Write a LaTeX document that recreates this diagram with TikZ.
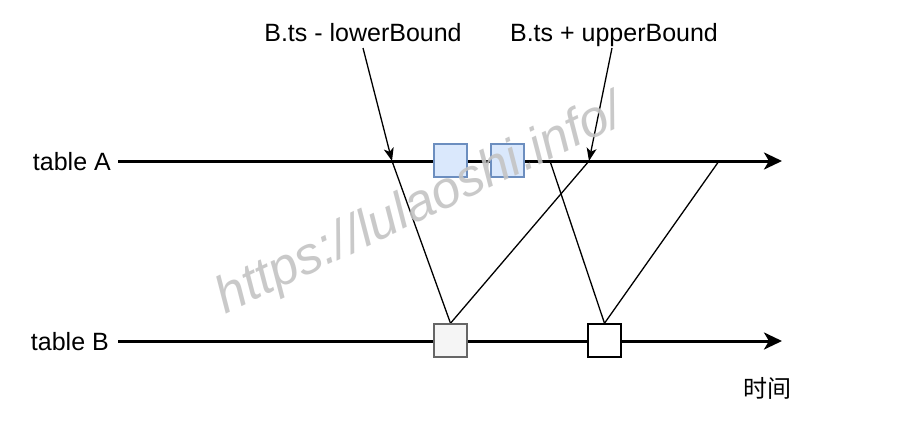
\documentclass[tikz,border=0pt]{standalone}
\usepackage{fontspec}
\setmainfont{Liberation Sans}
\newfontfamily\cjk{Noto Sans CJK SC}
\usetikzlibrary{arrows.meta}
\definecolor{blueFill}{HTML}{DAE8FC}
\definecolor{blueLine}{HTML}{6C8EBF}
\definecolor{grayFill}{HTML}{F5F5F5}
\definecolor{grayLine}{HTML}{666666}
\definecolor{wmark}{HTML}{C4C4C4}
\begin{document}
\begin{tikzpicture}[x=1pt,y=-1pt,
  lbl/.style={font=\fontsize{25}{30}\selectfont, inner sep=0pt},
  timeline/.style={line width=3pt, -{Stealth[length=18pt,width=17pt,inset=5pt]}},
  pointer/.style={line width=1.3pt, -{Stealth[length=13pt,width=10pt,inset=3.5pt]}},
  msg/.style={line width=1.3pt},
  evt/.style={draw, minimum width=33pt, minimum height=33pt, inner sep=0pt, line width=1.5pt},
  bluebox/.style={evt, fill=blueFill, draw=blueLine},
  graybox/.style={evt, fill=grayFill, draw=grayLine},
  whitebox/.style={evt, fill=white, draw=black}
]
\useasboundingbox (0,0) rectangle (900,439);
\fill[white] (0,0) rectangle (900,439);

% row labels
\node[lbl, anchor=base east] (tA) at (111,170) {table A};
\node[lbl, anchor=base east] (tB) at (109,350) {table B};

% timeline coordinates
\coordinate (aStart) at (118,161);
\coordinate (aEnd) at (782,161);
\coordinate (bStart) at (118,341);
\coordinate (bEnd) at (782,341);

% points on A
\coordinate (pLow) at (392,161);
\coordinate (pUp) at (589,161);
\coordinate (pC) at (550,161);
\coordinate (pD) at (719,161);

% top labels
\node[lbl, anchor=base] (lowL) at (363,41) {B.ts - lowerBound};
\node[lbl, anchor=base] (upL) at (614,41) {B.ts + upperBound};

% time label
\node[inner sep=0pt, font=\cjk\fontsize{24}{28}\selectfont] (time) at (767,388) {时间};

% timelines
\draw[timeline] (aStart) -- (aEnd);
\draw[timeline] (bStart) -- (bEnd);

% boxes on B
\node[graybox] (b1) at (450.5,340.5) {};
\node[whitebox] (b2) at (604.5,340.5) {};

% message lines
\draw[msg] (pLow) -- (b1.north);
\draw[msg] (b1.north) -- (pUp);
\draw[msg] (pC) -- (b2.north);
\draw[msg] (b2.north) -- (pD);

% redraw boxes on top
\node[graybox] at (b1) {};
\node[whitebox] at (b2) {};

% blue boxes on A
\node[bluebox] (a1) at (450.5,160.5) {};
\node[bluebox] (a2) at (507.5,160.5) {};

% pointers from labels
\draw[pointer] (363,48) -- (pLow);
\draw[pointer] (612,48) -- (pUp);

% watermark
\node[anchor=base west, inner sep=0pt, rotate=25.5, text=wmark, opacity=0.9,
      font=\itshape\fontsize{52}{60}\selectfont] (wm) at (225,314.5) {https://lulaoshi.info/};
\end{tikzpicture}
\end{document}
